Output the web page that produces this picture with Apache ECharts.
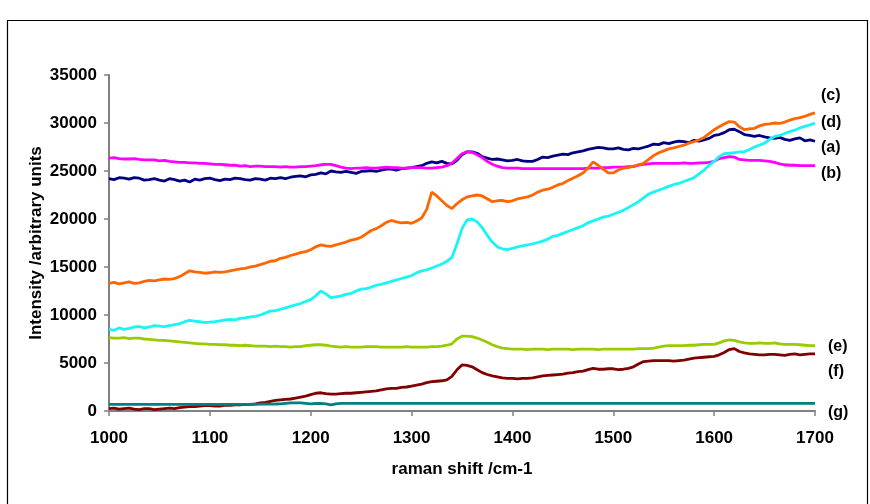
<!DOCTYPE html>
<html>
<head>
<meta charset="utf-8">
<script src="https://cdn.jsdelivr.net/npm/echarts@6/dist/echarts.min.js"></script>
<style>
  html, body { margin: 0; padding: 0; background: #fff; }
  #chart { width: 870px; height: 504px; }
</style>
</head>
<body>
<div id="chart"></div>
<script>
// Raman shift positions (cm-1) shared by every spectrum
const ramanShift = [
  1000,1005,1010,1015,1020,1025,1030,1035,1040,1045,1050,1055,1060,1065,1070,1075,1080,1085,1090,1095,
  1100,1105,1110,1115,1120,1125,1130,1135,1140,1145,1150,1155,1160,1165,1170,1175,1180,1185,1190,1195,
  1200,1205,1210,1215,1220,1225,1230,1235,1240,1245,1250,1255,1260,1265,1270,1275,1280,1285,1290,1295,
  1300,1305,1310,1315,1320,1325,1330,1335,1340,1345,1350,1355,1360,1365,1370,1375,1380,1385,1390,1395,
  1400,1405,1410,1415,1420,1425,1430,1435,1440,1445,1450,1455,1460,1465,1470,1475,1480,1485,1490,1495,
  1500,1505,1510,1515,1520,1525,1530,1535,1540,1545,1550,1555,1560,1565,1570,1575,1580,1585,1590,1595,
  1600,1605,1610,1615,1620,1625,1630,1635,1640,1645,1650,1655,1660,1665,1670,1675,1680,1685,1690,1695,
  1700
];

// Intensity of each spectrum (arbitrary units), one row per 100 cm-1
const spectrumA = [
  24200,24100,24300,24250,24150,24300,24250,24050,24100,24200,24050,23950,24200,24100,23950,24050,23850,24150,24050,24200,
  24250,24100,24000,24150,24100,24250,24200,24100,24050,24200,24150,24050,24250,24200,24300,24200,24350,24450,24500,24400,
  24600,24650,24800,24700,25000,24900,24850,24950,24850,24750,24950,25000,25050,24950,25100,25200,25200,25100,25250,25300,
  25350,25450,25550,25800,25950,25850,26000,25800,25750,26100,26700,27000,27000,26850,26500,26350,26200,26250,26150,26050,
  26100,26200,26050,26000,26000,26200,26450,26400,26550,26650,26750,26700,26900,27000,27100,27250,27350,27450,27400,27300,
  27300,27400,27250,27200,27350,27300,27450,27600,27800,27750,27950,27850,28000,28100,28050,27950,28200,28100,28250,28400,
  28700,28800,29000,29300,29350,29100,28800,28700,28600,28700,28550,28450,28400,28500,28300,28200,28350,28450,28150,28250,
  28100
];
const spectrumB = [
  26350,26400,26300,26250,26250,26300,26200,26150,26150,26150,26050,26100,26000,25950,25900,25900,25850,25850,25800,25800,
  25750,25700,25700,25650,25600,25600,25500,25550,25450,25500,25500,25450,25450,25450,25400,25450,25400,25400,25450,25450,
  25500,25550,25650,25700,25700,25550,25400,25300,25250,25300,25300,25350,25300,25300,25350,25400,25350,25350,25300,25300,
  25350,25350,25350,25300,25300,25350,25400,25550,25800,26300,26800,27000,26950,26700,26400,26000,25700,25500,25350,25300,
  25300,25300,25250,25250,25250,25250,25250,25250,25250,25250,25250,25250,25250,25250,25250,25300,25300,25300,25350,25350,
  25400,25400,25400,25450,25450,25600,25700,25750,25800,25800,25800,25800,25800,25800,25850,25800,25800,25850,25850,25900,
  26000,26300,26400,26500,26450,26200,26150,26100,26100,26100,26050,26000,25900,25750,25650,25600,25600,25550,25550,25550,
  25550
];
const spectrumC = [
  13300,13400,13250,13350,13450,13300,13350,13500,13600,13550,13650,13750,13700,13800,14000,14300,14600,14500,14450,14350,
  14400,14500,14450,14500,14600,14700,14800,14850,15000,15100,15250,15400,15600,15650,15900,16000,16200,16350,16500,16600,
  16800,17100,17300,17200,17150,17300,17450,17600,17800,17900,18100,18450,18800,19000,19300,19650,19850,19700,19600,19650,
  19550,19800,20100,21000,22800,22400,21900,21400,21100,21600,22000,22300,22400,22500,22400,22100,21800,21900,21950,21800,
  21900,22100,22200,22300,22500,22800,23000,23100,23300,23550,23700,24000,24250,24500,24800,25300,25950,25600,25200,24800,
  24800,25100,25300,25350,25500,25650,25800,26200,26600,26900,27100,27300,27400,27550,27700,27900,28050,28250,28500,28900,
  29300,29600,29900,30150,30100,29600,29300,29400,29450,29700,29850,29900,30000,29950,30100,30300,30450,30550,30700,30900,
  31050
];
const spectrumD = [
  8500,8400,8650,8500,8600,8750,8800,8650,8750,8900,8850,8800,8900,9000,9100,9300,9450,9350,9300,9200,
  9250,9300,9400,9500,9550,9500,9650,9700,9800,9850,10000,10200,10400,10450,10600,10750,10900,11050,11200,11400,
  11600,12000,12500,12200,11800,11900,12000,12150,12250,12500,12700,12750,12900,13100,13200,13350,13500,13650,13800,13950,
  14100,14400,14600,14700,14900,15100,15300,15600,16000,17400,19000,19900,20000,19700,19100,18300,17600,17100,16900,16800,
  16950,17100,17200,17300,17400,17550,17700,17900,18200,18300,18500,18700,18900,19100,19300,19600,19800,20000,20200,20300,
  20500,20700,20900,21200,21500,21800,22200,22600,22800,23000,23200,23400,23600,23700,23900,24100,24300,24700,25100,25600,
  26000,26500,26800,26850,26900,27000,27000,27250,27500,27700,27900,28300,28600,28700,28900,29100,29250,29500,29650,29800,
  30000
];
const spectrumE = [
  7650,7600,7600,7650,7550,7600,7600,7500,7450,7400,7350,7350,7300,7250,7200,7150,7100,7050,7000,7000,
  6950,6950,6900,6900,6850,6850,6800,6850,6800,6750,6750,6750,6700,6750,6700,6700,6650,6700,6700,6800,
  6850,6900,6900,6850,6750,6700,6650,6700,6650,6650,6650,6700,6700,6700,6650,6650,6650,6650,6650,6700,
  6650,6650,6650,6650,6700,6700,6750,6850,7000,7500,7800,7800,7750,7600,7400,7150,6900,6700,6550,6500,
  6450,6450,6450,6400,6450,6450,6450,6400,6450,6450,6450,6450,6400,6450,6450,6450,6450,6400,6450,6450,
  6450,6450,6450,6450,6450,6500,6500,6500,6550,6650,6750,6800,6800,6800,6800,6850,6850,6900,6950,6950,
  6950,7100,7300,7400,7350,7200,7100,7050,7050,7100,7050,7050,7100,7000,6950,6950,6950,6900,6850,6800,
  6800
];
const spectrumF = [
  250,300,200,250,300,200,150,250,250,150,200,250,300,250,350,400,450,450,500,550,
  550,500,500,600,600,650,650,700,700,750,850,900,1000,1100,1150,1200,1250,1350,1450,1550,
  1700,1850,1900,1800,1750,1750,1800,1850,1850,1900,1950,2000,2050,2100,2200,2300,2350,2350,2450,2500,
  2600,2700,2800,2950,3050,3100,3150,3250,3600,4300,4800,4750,4600,4300,4000,3800,3650,3550,3450,3400,
  3400,3350,3400,3400,3450,3550,3650,3700,3750,3800,3850,3950,4000,4100,4150,4300,4450,4350,4350,4400,
  4400,4300,4350,4450,4600,4900,5150,5200,5250,5250,5250,5250,5200,5250,5300,5400,5500,5550,5600,5650,
  5700,5850,6100,6400,6500,6200,6050,5950,5900,5850,5850,5900,5900,5850,5800,5900,5950,5850,5900,5950,
  5950
];
const spectrumG = [
  700,700,700,700,700,700,700,700,700,700,700,700,700,700,700,700,700,700,700,700,
  700,700,700,700,700,700,700,700,700,700,720,720,720,730,750,800,850,850,850,800,
  750,780,800,750,650,750,800,800,800,800,800,800,800,800,800,800,800,800,800,800,
  800,800,800,800,800,800,800,800,800,800,800,800,800,800,800,800,800,800,800,800,
  800,800,800,800,800,800,800,800,800,800,800,800,800,800,800,800,800,800,800,800,
  800,800,800,800,800,800,800,800,800,800,800,800,800,800,800,800,800,800,800,800,
  800,800,800,800,800,800,800,800,800,800,800,800,800,800,800,800,800,800,800,800,
  800
];

// Tag letters written beside the right ends of the spectra
const tagLetters = ['(c)', '(d)', '(a)', '(b)', '(e)', '(f)', '(g)'];

const spectra = [
  { name: '(a)', values: spectrumA, color: '#000080' },
  { name: '(b)', values: spectrumB, color: '#FF00FF' },
  { name: '(c)', values: spectrumC, color: '#FF6600' },
  { name: '(d)', values: spectrumD, color: '#19F5F5' },
  { name: '(e)', values: spectrumE, color: '#99CC00' },
  { name: '(f)', values: spectrumF, color: '#800000' },
  { name: '(g)', values: spectrumG, color: '#008080' }
];

const FONT = '"Liberation Sans", Arial, sans-serif';
const chart = echarts.init(document.getElementById('chart'), null, { renderer: 'canvas' });

// tag placement (pixel positions next to the plot's right edge)
const tagSpots = [
  [821, 96], [821, 123], [821, 148], [821, 174],
  [828, 347], [828, 372], [828, 413]
];

const graphics = [
  {
    type: 'rect',
    shape: { x: 7.5, y: 20.5, width: 860, height: 500 },
    style: { fill: 'none', stroke: '#000', lineWidth: 1.2 },
    silent: true
  }
].concat(tagLetters.map((t, i) => ({
  type: 'text',
  x: tagSpots[i][0],
  y: tagSpots[i][1],
  style: {
    text: t,
    font: 'bold 16px ' + FONT,
    fill: '#000',
    verticalAlign: 'middle'
  },
  silent: true
})));

const axisText = { fontFamily: FONT, fontWeight: 'bold', fontSize: 17, color: '#000' };

chart.setOption({
  animation: false,
  backgroundColor: '#fff',
  grid: { left: 109, right: 55, top: 75, bottom: 93, containLabel: false },
  xAxis: {
    type: 'value',
    min: 1000,
    max: 1700,
    interval: 100,
    name: 'raman shift /cm-1',
    nameLocation: 'middle',
    nameGap: 50,
    nameMoveOverlap: false,
    nameTextStyle: axisText,
    axisLine: { lineStyle: { color: '#808080', width: 2 } },
    axisTick: { show: true, length: 5, inside: false, lineStyle: { color: '#808080', width: 1.5 } },
    axisLabel: Object.assign({ margin: 19, formatter: v => String(v) }, axisText),
    splitLine: { show: false }
  },
  yAxis: {
    type: 'value',
    min: 0,
    max: 35000,
    interval: 5000,
    name: 'Intensity /arbitrary units',
    nameLocation: 'middle',
    nameGap: 64,
    nameMoveOverlap: false,
    nameTextStyle: axisText,
    axisLine: { show: true, lineStyle: { color: '#808080', width: 2 } },
    axisTick: { show: true, length: 5, inside: false, lineStyle: { color: '#808080', width: 1.5 } },
    axisLabel: Object.assign({ margin: 12, formatter: v => String(v) }, axisText),
    splitLine: { show: false }
  },
  series: spectra.map(s => ({
    name: s.name,
    type: 'line',
    data: ramanShift.map((x, i) => [x, s.values[i]]),
    showSymbol: false,
    symbol: 'none',
    smooth: false,
    lineStyle: { color: s.color, width: 2.8 },
    itemStyle: { color: s.color },
    emphasis: { disabled: true }
  })),
  graphic: graphics
});
</script>
</body>
</html>
